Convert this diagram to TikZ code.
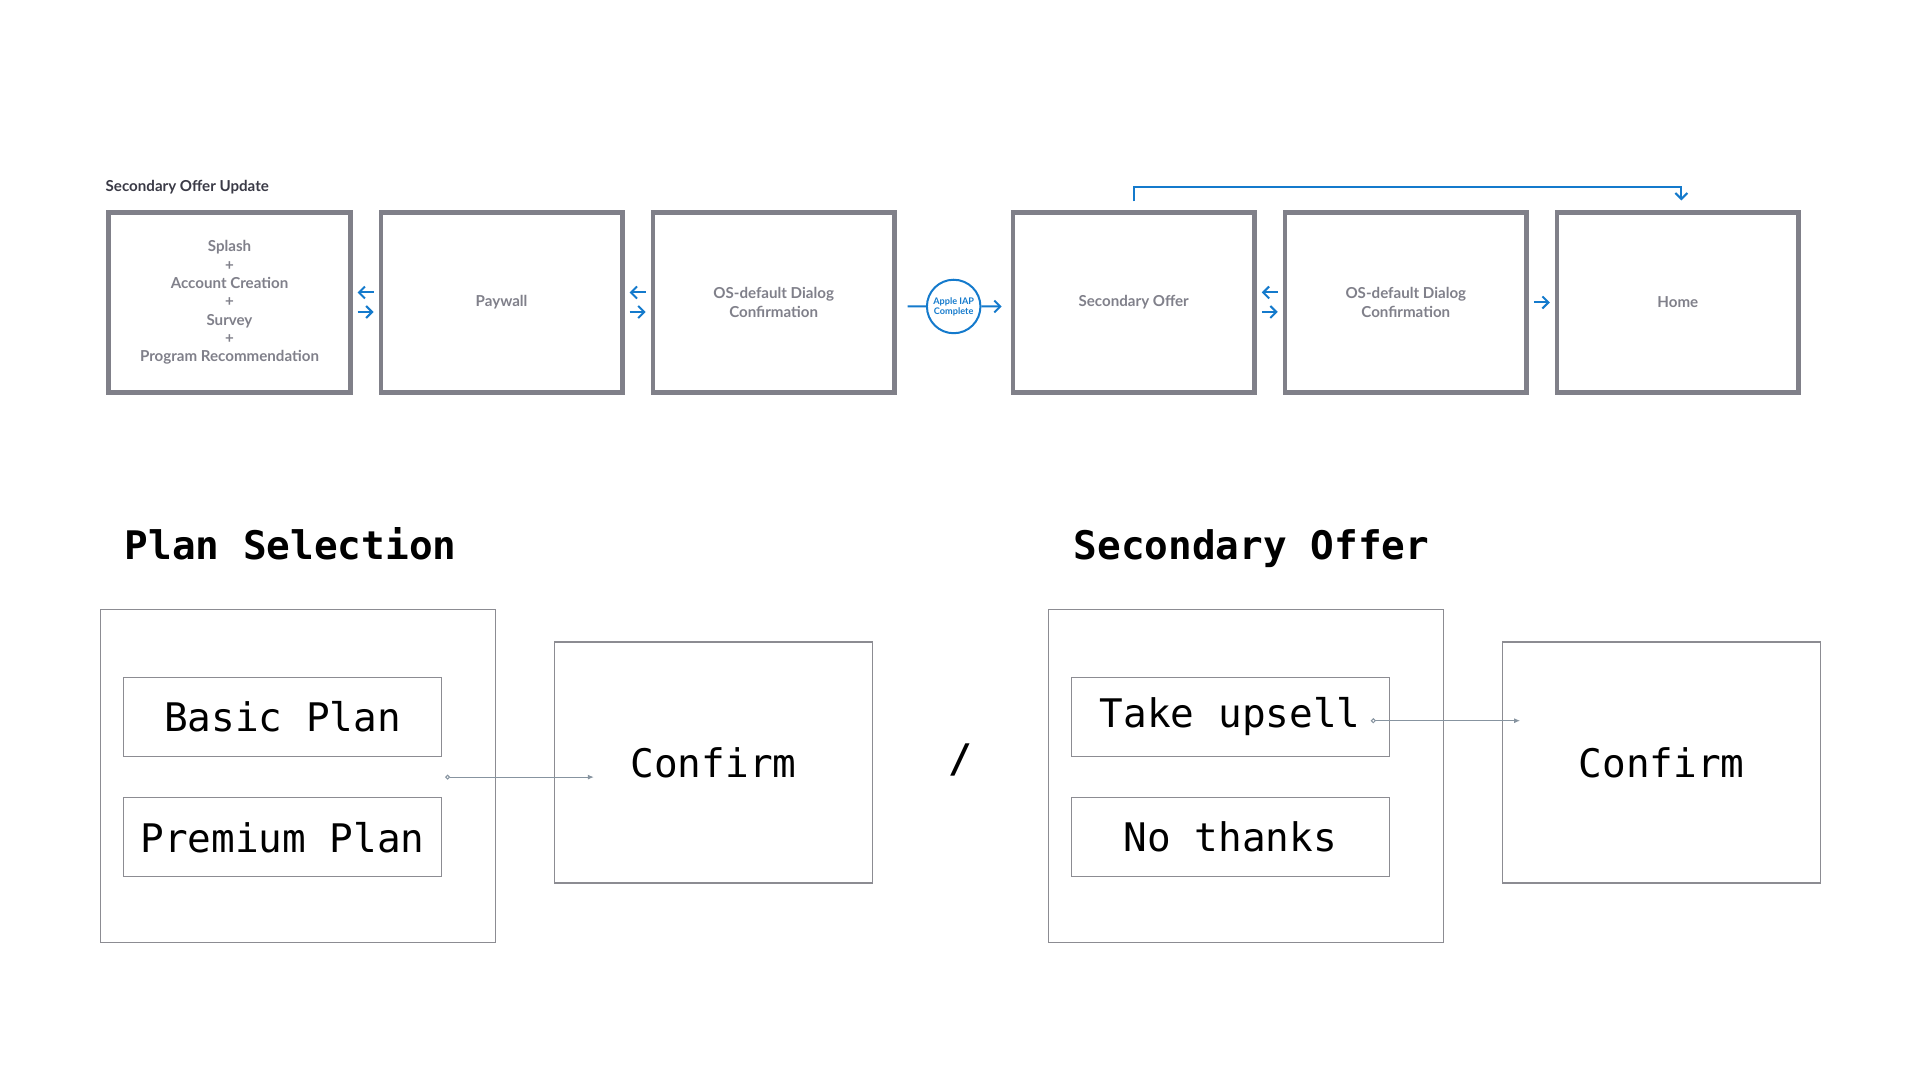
\documentclass[tikz,border=0pt]{standalone}
\usepackage{fontspec}
\setmainfont{Lato}
\newfontfamily\monofont{DejaVu Sans Mono}
\usepackage{xcolor}
\usepackage{tikz}
\usetikzlibrary{calc,positioning,arrows.meta}
\definecolor{screengray}{RGB}{128,128,137}
\definecolor{labelgray}{RGB}{128,128,138}
\definecolor{titlegray}{RGB}{58,58,70}
\definecolor{iapblue}{RGB}{20,122,204}
\definecolor{wiregray}{RGB}{140,140,146}
\definecolor{wireline}{RGB}{135,148,160}
\newcommand\toplabel{\bfseries\fontsize{4.3}{5.2}\selectfont}
\newcommand\optfont{\monofont\fontsize{11.2}{13}\selectfont}
\newcommand\headfont{\monofont\bfseries\fontsize{11.2}{13}\selectfont}
\tikzset{
  flow/.style={-{Straight Barb[length=0.6mm,width=1.2mm]}, draw=iapblue, line width=0.57pt},
  pair/.style={flow, shorten <=0.5mm, shorten >=0.5mm},
  screen/.style={draw=screengray, line width=1.3pt, minimum width=24.15mm, minimum height=17.95mm,
    align=center, text=labelgray, font=\toplabel},
  iapcircle/.style={circle, draw=iapblue, line width=0.57pt, minimum size=5.35mm, inner sep=0pt,
    align=center, text=iapblue, font=\bfseries\fontsize{2.6}{2.9}\selectfont},
  wirebox/.style={draw=wiregray, line width=0.35pt},
  bigframe/.style={wirebox, minimum width=39.5mm, minimum height=33.3mm},
  option/.style={wirebox, minimum width=31.8mm, minimum height=7.9mm, font=\optfont},
  confirmbox/.style={wirebox, minimum width=31.8mm, minimum height=24.1mm, font=\optfont},
  wire/.style={{Circle[open,length=0.5mm]}-{Latex[length=0.6mm,width=0.5mm]}, draw=wireline, line width=0.3pt},
  heading/.style={font=\headfont, anchor=base west, inner sep=0pt}
}
\begin{document}
\begin{tikzpicture}
  \useasboundingbox (0,0) rectangle (19.2,10.8);
  \node[anchor=base west, inner sep=0pt, font=\toplabel, text=titlegray] (title) at (1.05,8.88) {Secondary Offer Update};
  % top flow
  \node[screen] (splash) at (2.295,7.775) {Splash\\+\\Account Creation\\+\\Survey\\+\\Program Recommendation};
  \node[screen, right=2.6mm of splash] (paywall) {Paywall};
  \node[screen, right=2.6mm of paywall] (osdialog) {OS-default Dialog\\Confirmation};
  \node[screen, right=11.4mm of osdialog] (secoffer) {Secondary Offer};
  \node[screen, right=2.6mm of secoffer] (osdialogb) {OS-default Dialog\\Confirmation};
  \node[screen, right=2.6mm of osdialogb] (home) {Home};
  \node[iapcircle] (iap) at ($(osdialog.east)!0.5!(secoffer.west)+(0,-0.4mm)$) {Apple IAP\\Complete};
  % back and forth
  \draw[pair] ([yshift=1mm]paywall.west) -- ([yshift=1mm]splash.east);
  \draw[pair] ([yshift=-0.95mm]splash.east) -- ([yshift=-0.95mm]paywall.west);
  \draw[pair] ([yshift=1mm]osdialog.west) -- ([yshift=1mm]paywall.east);
  \draw[pair] ([yshift=-0.95mm]paywall.east) -- ([yshift=-0.95mm]osdialog.west);
  \draw[pair] ([yshift=1mm]osdialogb.west) -- ([yshift=1mm]secoffer.east);
  \draw[pair] ([yshift=-0.95mm]secoffer.east) -- ([yshift=-0.95mm]osdialogb.west);
  \draw[pair] (osdialogb.east) -- (home.west);
  % purchase
  \draw[flow, -] ([shift={(1.1mm,-0.4mm)}]osdialog.east) -- (iap.west);
  \draw[flow] (iap.east) -- ([shift={(-0.9mm,-0.4mm)}]secoffer.west);
  \draw[flow] ([yshift=0.9mm]secoffer.north) -- ++(0,1.46mm) -| ([xshift=0.35mm,yshift=1mm]home.north);
  % plan selection
  \node[heading] (planhead) at (1.24,5.2) {Plan Selection};
  \node[bigframe] (planframe) at (2.98,3.04) {};
  \node[option] (basic) at (2.825,3.63) {Basic Plan};
  \node[option, below=4mm of basic] (premium) {Premium Plan};
  \node[confirmbox] (confirma) at (7.135,3.175) {Confirm};
  \node[font=\headfont] (slash) at (9.6,3.2) {/};
  % secondary offer
  \node[heading] (offerhead) at (10.73,5.2) {Secondary Offer};
  \node[bigframe] (offerframe) at (12.458,3.04) {};
  \node[option] (upsell) at (12.302,3.633) {Take upsell};
  \node[option, below=4mm of upsell] (nothanks) {No thanks};
  \node[confirmbox] (confirmb) at (16.617,3.175) {Confirm};
  % wiring
  \coordinate (planout) at ($(basic.south east)!0.5!(premium.north east)+(0.3mm,0)$);
  \draw[wire] (planout) -- ($(confirma.west |- planout)+(4mm,0)$);
  \coordinate (upsellout) at ($(upsell.east)+(-1.9mm,-0.4mm)$);
  \draw[wire] (upsellout) -- ($(confirmb.west |- upsellout)+(1.8mm,0)$);
\end{tikzpicture}
\end{document}
